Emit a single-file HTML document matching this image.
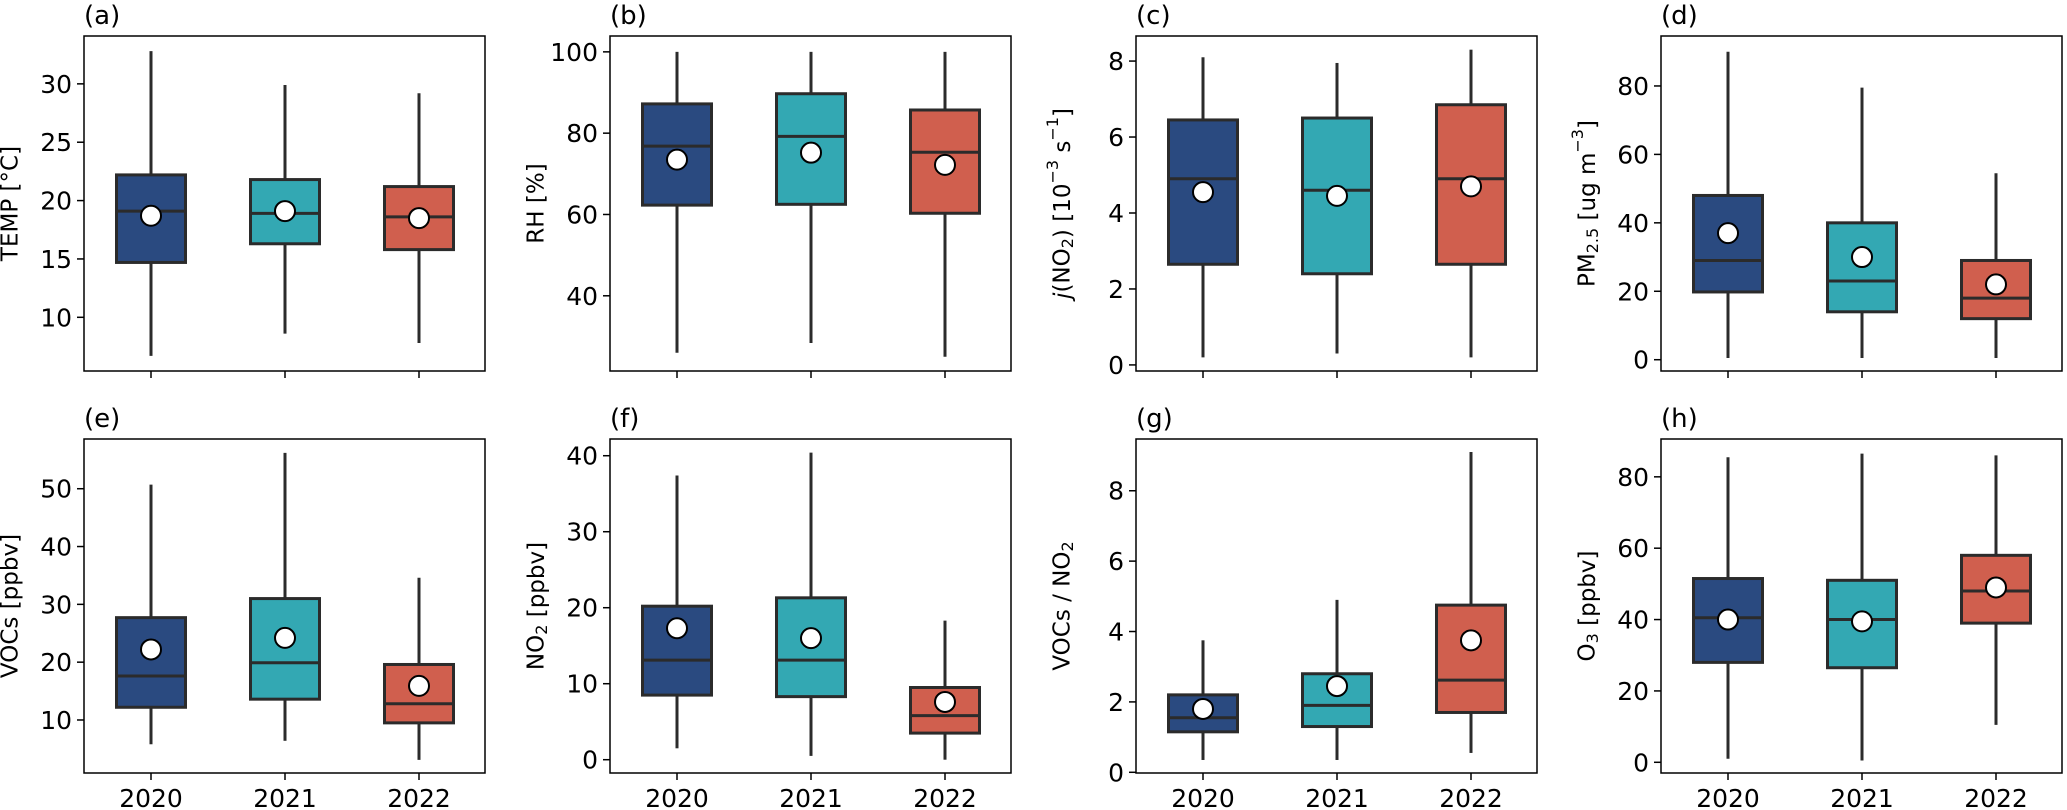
<!DOCTYPE html>
<html><head><meta charset="utf-8"><style>
html,body{margin:0;padding:0;background:#fff;}
svg{display:block;font-family:"DejaVu Sans","Liberation Sans",sans-serif;}
</style></head><body>
<svg id="fig" width="2067" height="810" viewBox="0 0 2067 810" xmlns="http://www.w3.org/2000/svg"></svg>
<script>
const years = ["2020","2021","2022"];
const colors = ["#2a4a80","#33a8b3","#d05f4e"];
const panelIds = ["a","b","c","d","e","f","g","h"];
// per panel: [2020,2021,2022]
const whisLo = [[6.7,8.6,7.8],[26.0,28.4,25.0],[0.2,0.3,0.2],[0.5,0.5,0.5],[5.8,6.4,3.1],[1.5,0.5,0.0],[0.35,0.35,0.55],[1,0.5,10.5]];
const q1Vals = [[14.7,16.3,15.8],[62.3,62.5,60.3],[2.65,2.4,2.65],[19.8,14,12],[12.2,13.6,9.5],[8.5,8.3,3.5],[1.15,1.3,1.7],[28,26.5,39]];
const medVals = [[19.1,18.9,18.6],[76.8,79.2,75.3],[4.9,4.6,4.9],[29,23,18],[17.6,19.9,12.8],[13.1,13.1,5.8],[1.55,1.9,2.62],[40.5,40,48]];
const q3Vals = [[22.2,21.8,21.2],[87.2,89.7,85.7],[6.45,6.5,6.85],[48,40,29],[27.7,31,19.6],[20.2,21.3,9.5],[2.2,2.8,4.75],[51.5,51,58]];
const whisHi = [[32.8,29.9,29.2],[100,100,100],[8.1,7.95,8.3],[90,79.5,54.5],[50.7,56.2,34.6],[37.4,40.4,18.3],[3.75,4.9,9.1],[85.5,86.5,86]];
const meanVals = [[18.7,19.1,18.5],[73.5,75.2,72.2],[4.55,4.45,4.7],[37,30,22],[22.2,24.2,15.9],[17.3,16,7.6],[1.8,2.45,3.75],[40,39.5,49]];
const yMins = [5.4,21.5,-0.16,-3.3,0.83,-1.75,-0.02,-3.0];
const yMaxs = [34.1,103.9,8.66,94.6,58.6,42.2,9.47,90.6];
const yTicks = [[10,15,20,25,30],[40,60,80,100],[0,2,4,6,8],[0,20,40,60,80],[10,20,30,40,50],[0,10,20,30,40],[0,2,4,6,8],[0,20,40,60,80]];
const yLabels = [
 'TEMP [°C]',
 'RH [%]',
 '<tspan font-style="italic">j</tspan>(NO<tspan font-size="16" dy="5">2</tspan><tspan dy="-5">) [10</tspan><tspan font-size="16" dy="-10">−3</tspan><tspan dy="10"> s</tspan><tspan font-size="16" dy="-10">−1</tspan><tspan dy="10">]</tspan>',
 'PM<tspan font-size="16" dy="5">2.5</tspan><tspan dy="-5"> [ug m</tspan><tspan font-size="16" dy="-10">−3</tspan><tspan dy="10">]</tspan>',
 'VOCs [ppbv]',
 'NO<tspan font-size="16" dy="5">2</tspan><tspan dy="-5"> [ppbv]</tspan>',
 'VOCs / NO<tspan font-size="16" dy="5">2</tspan>',
 'O<tspan font-size="16" dy="5">3</tspan><tspan dy="-5"> [ppbv]</tspan>'
];
const NS="http://www.w3.org/2000/svg";
const svg=document.getElementById('fig');
const lefts=[84,610,1136,1661], W=401, tops=[36,439], H=[335,334], BW=69;
function mk(tag,attrs,parent){const e=document.createElementNS(NS,tag);for(const k in attrs)e.setAttribute(k,attrs[k]);(parent||svg).appendChild(e);return e;}
panelIds.forEach((pid,p)=>{
  const L=lefts[p%4], T=tops[Math.floor(p/4)], h=H[Math.floor(p/4)], B=T+h;
  const g=mk('g',{});
  
  
  const ys=v=>B-(v-yMins[p])/(yMaxs[p]-yMins[p])*h;
  const xs=i=>L+67+134*i;
  const lab=mk('text',{x:L,y:T-12,'font-size':26,fill:'#000'},g);lab.textContent='('+pid+')';
  
  
  yTicks[p].forEach(t=>{
    const y=ys(t);
    mk('line',{x1:L-7,x2:L,y1:y,y2:y,stroke:'#000','stroke-width':1.5},g);
    const tx=mk('text',{x:L-12,y:y+9,'font-size':25,'text-anchor':'end',fill:'#000'},g);tx.textContent=t;
    
    
  });
  const cx=L-73, cy=T+h/2;
  const yl=mk('text',{x:cx,y:cy,'font-size':23,'text-anchor':'middle','dominant-baseline':'middle',transform:`rotate(-90 ${cx} ${cy})`,fill:'#000'},g);
  yl.innerHTML=yLabels[p];
  
  
  years.forEach((yr,i)=>{
    const x=xs(i);
    mk('line',{x1:x,x2:x,y1:B,y2:B+7,stroke:'#000','stroke-width':1.5},g);
    if(p>=4){const t=mk('text',{x:x,y:B+34,'font-size':25,'text-anchor':'middle',fill:'#000'},g);t.textContent=yr;
      
      }
    const bg=mk('g',{},g);
    
    
    mk('line',{x1:x,x2:x,y1:ys(whisLo[p][i]),y2:ys(q1Vals[p][i]),stroke:'#2b2b2b','stroke-width':3},bg);
    mk('line',{x1:x,x2:x,y1:ys(q3Vals[p][i]),y2:ys(whisHi[p][i]),stroke:'#2b2b2b','stroke-width':3},bg);
    const yt=ys(q3Vals[p][i]), yb=ys(q1Vals[p][i]);
    mk('rect',{x:x-BW/2,y:yt,width:BW,height:yb-yt,fill:colors[i],stroke:'#2b2b2b','stroke-width':3},bg);
    mk('line',{x1:x-BW/2,x2:x+BW/2,y1:ys(medVals[p][i]),y2:ys(medVals[p][i]),stroke:'#2b2b2b','stroke-width':3},bg);
    const c=mk('circle',{cx:x,cy:ys(meanVals[p][i]),r:10,fill:'#fff',stroke:'#000','stroke-width':2},bg);
    
    
  });
  const fr=mk('rect',{x:L,y:T,width:W,height:h,fill:'none',stroke:'#000','stroke-width':1.5},g);
  
  
});
</script>
</body></html>
